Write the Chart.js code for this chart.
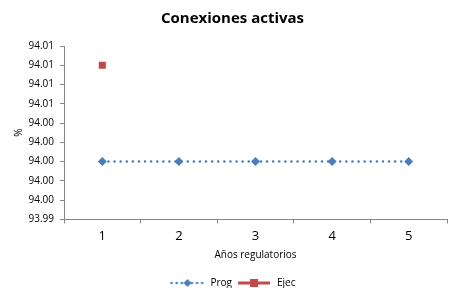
<!DOCTYPE html>
<html>
<head>
<meta charset="utf-8">
<script src="https://cdn.jsdelivr.net/npm/chart.js@4"></script>
<style>
  html, body { margin: 0; padding: 0; background: #fff; }
  #wrap { width: 452px; height: 288px; }
</style>
</head>
<body>
<div id="wrap"><canvas id="chart" width="452" height="288"></canvas></div>
<script>
// chart data
const years = ['1', '2', '3', '4', '5'];
const progValues = [94.0, 94.0, 94.0, 94.0, 94.0];
const ejecValues = [94.01, null, null, null, null];
const yTicks = [93.994, 93.996, 93.998, 94.0, 94.002, 94.004, 94.006, 94.008, 94.01, 94.012];

const progColor = '#4a7ebb';
const ejecColor = '#be4b48';
const axisColor = '#868686';
const fontFamily = 'Open Sans, Liberation Sans, sans-serif';

// small legend swatch: line with marker in the middle
function legendSwatch(color, dashed, marker) {
    const c = document.createElement('canvas');
    c.width = 36;
    c.height = 10;
    const g = c.getContext('2d');
    g.strokeStyle = color;
    g.fillStyle = color;
    if (dashed) {
        g.lineWidth = 2.5;
        g.lineCap = 'round';
        g.setLineDash([0.1, 5]);
    } else {
        g.lineWidth = 3;
    }
    g.beginPath();
    g.moveTo(2, 5);
    g.lineTo(34, 5);
    g.stroke();
    g.setLineDash([]);
    if (marker === 'diamond') {
        g.beginPath();
        g.moveTo(18, 1);
        g.lineTo(22, 5);
        g.lineTo(18, 9);
        g.lineTo(14, 5);
        g.closePath();
        g.fill();
    } else {
        g.fillRect(14, 1, 8, 8);
    }
    return c;
}

const ctx = document.getElementById('chart').getContext('2d');

new Chart(ctx, {
    type: 'line',
    data: {
        labels: years,
        datasets: [
            {
                label: 'Prog',
                data: progValues,
                borderColor: progColor,
                backgroundColor: progColor,
                borderWidth: 2.5,
                borderDash: [0.1, 6],
                borderCapStyle: 'round',
                pointStyle: 'rectRot',
                pointRadius: 4.5,
                pointBorderWidth: 0,
                tension: 0
            },
            {
                label: 'Ejec',
                data: ejecValues,
                borderColor: ejecColor,
                backgroundColor: ejecColor,
                borderWidth: 3,
                pointStyle: 'rect',
                pointRadius: 5,
                pointBorderWidth: 0
            }
        ]
    },
    options: {
        responsive: false,
        animation: false,
        layout: {
            padding: { left: 13, right: 0, top: 6, bottom: -10 }
        },
        plugins: {
            title: {
                display: true,
                text: 'Conexiones activas',
                color: '#000',
                font: { family: fontFamily, size: 15, weight: 'bold' },
                padding: { top: 4, bottom: 18 }
            },
            legend: {
                position: 'bottom',
                labels: {
                    color: '#000',
                    font: { family: fontFamily, size: 10 },
                    usePointStyle: true,
                    pointStyleWidth: 36,
                    boxHeight: 10,
                    padding: 4,
                    generateLabels: function(chart) {
                        return [
                            { text: 'Prog', pointStyle: legendSwatch(progColor, true, 'diamond'), datasetIndex: 0, lineWidth: 0, strokeStyle: 'transparent', fillStyle: 'transparent' },
                            { text: 'Ejec', pointStyle: legendSwatch(ejecColor, false, 'square'), datasetIndex: 1, lineWidth: 0, strokeStyle: 'transparent', fillStyle: 'transparent' }
                        ];
                    }
                }
            },
            tooltip: { enabled: false }
        },
        scales: {
            x: {
                offset: true,
                grid: {
                    display: true,
                    drawOnChartArea: false,
                    offset: true,
                    color: axisColor,
                    tickLength: 4
                },
                border: { color: axisColor },
                ticks: {
                    color: '#000',
                    font: { family: fontFamily, size: 13 },
                    padding: 5
                },
                title: {
                    display: true,
                    text: 'Años regulatorios',
                    color: '#000',
                    font: { family: fontFamily, size: 10 },
                    padding: { top: 0, bottom: 13 }
                }
            },
            y: {
                min: yTicks[0],
                max: yTicks[yTicks.length - 1],
                afterBuildTicks: function(scale) {
                    scale.ticks = yTicks.map(v => ({ value: v }));
                },
                afterFit: function(scale) {
                    scale.width = 51;
                },
                grid: {
                    display: true,
                    drawOnChartArea: false,
                    color: axisColor,
                    tickLength: 4
                },
                border: { color: axisColor },
                ticks: {
                    color: '#000',
                    font: { family: fontFamily, size: 10 },
                    padding: 6,
                    callback: function(value) {
                        return Number(value).toFixed(2);
                    }
                },
                title: {
                    display: true,
                    text: '%',
                    color: '#000',
                    font: { family: fontFamily, size: 10 },
                    padding: 0
                }
            }
        }
    }
});
</script>
</body>
</html>
